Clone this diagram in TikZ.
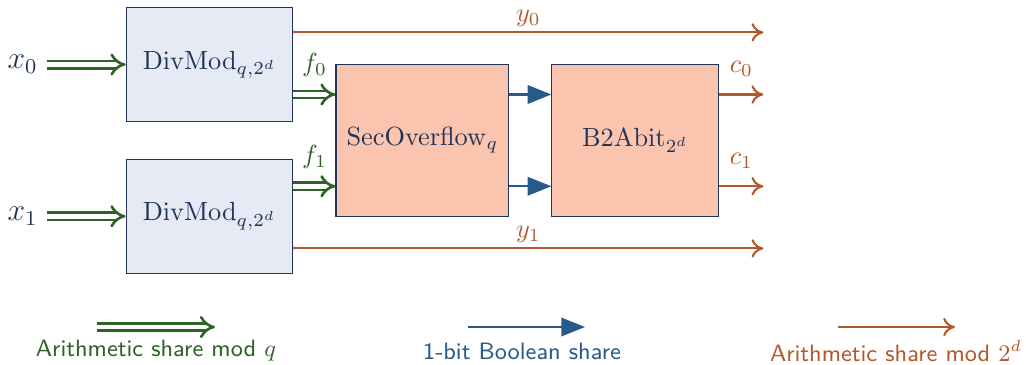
\documentclass[tikz,border=0pt]{standalone}
\usepackage{amsmath}
\usepackage{tikz}
\usetikzlibrary{arrows.meta, positioning, calc}
\definecolor{navy}{RGB}{31,52,88}
\definecolor{arithq}{RGB}{46,98,38}
\definecolor{boolblue}{RGB}{38,90,138}
\definecolor{arithd}{RGB}{178,88,44}
\definecolor{boxblue}{RGB}{229,234,244}
\definecolor{boxorange}{RGB}{251,196,174}

\begin{document}
\begin{tikzpicture}[x=0.01336cm, y=-0.01336cm,
    modq/.style={draw=arithq, double=white, line width=1pt, double distance=1.8pt, -{Implies}},
    bool/.style={draw=boolblue, thick, -{Triangle[length=9pt, width=7pt]}},
    modd/.style={draw=arithd, thick, -{To[length=4.5pt, width=7pt]}}]
    \useasboundingbox (0,0) rectangle (1026,364);%fixes the margins
    \node (dm0) [rectangle, draw=navy, fill=boxblue, text=navy, minimum width=2.231cm, minimum height=1.52cm] at (209.5,64.5) {$\mathrm{DivMod}_{q,2^d}$};%upper DivMod
    \node (dm1) [rectangle, draw=navy, fill=boxblue, text=navy, minimum width=2.231cm, minimum height=1.52cm, below=0.494cm of dm0] {$\mathrm{DivMod}_{q,2^d}$};%lower DivMod
    \coordinate (mid) at ($(dm0.east)!0.5!(dm1.east)$);
    \node (so) [rectangle, draw=navy, fill=boxorange, text=navy, minimum width=2.311cm, minimum height=2.03cm, right=0.561cm of mid] {$\mathrm{SecOverflow}_q$};%overflow box
    \node (b2a) [rectangle, draw=navy, fill=boxorange, text=navy, minimum width=2.231cm, minimum height=2.03cm, right=0.561cm of so] {$\mathrm{B2Abit}_{2^d}$};%conversion box
    \node (x0) [text=navy, left=1.05cm of dm0] {\large $x_0$};%input x0
    \node (x1) [text=navy, left=1.05cm of dm1] {\large $x_1$};%input x1
    \draw[modq] (x0) -- (dm0);%feeds x0
    \draw[modq] (x1) -- (dm1);%feeds x1
    \coordinate (si0) at ($(so.north west)!0.2!(so.south west)$);
    \coordinate (si1) at ($(so.north west)!0.8!(so.south west)$);
    \draw[modq] (dm0.east |- si0) -- node[midway, above=3pt, text=arithq]{$f_0$} (si0);%f0 into SecOverflow
    \draw[modq] (dm1.east |- si1) -- node[midway, above=3pt, text=arithq]{$f_1$} (si1);%f1 into SecOverflow
    \draw[bool] (so.east |- si0) -- (b2a.west |- si0);%boolean shares
    \draw[bool] (so.east |- si1) -- (b2a.west |- si1);
    \coordinate (c0end) at ($(b2a.east |- si0)+(44,0)$);
    \coordinate (c1end) at ($(b2a.east |- si1)+(44,0)$);
    \draw[modd] (b2a.east |- si0) -- node[midway, above=3pt, text=arithd]{$c_0$} (c0end);%c0 out
    \draw[modd] (b2a.east |- si1) -- node[midway, above=3pt, text=arithd]{$c_1$} (c1end);%c1 out
    \coordinate (y0start) at ($(dm0.north east)!0.22!(dm0.south east)$);
    \coordinate (y1start) at ($(dm1.south east)!0.22!(dm1.north east)$);
    \draw[modd] (y0start) -- node[midway, above=-1.5pt, text=arithd]{$y_0$} (y0start -| c0end);%y0 passes by
    \draw[modd] (y1start) -- node[midway, above=-1.5pt, text=arithd]{$y_1$} (y1start -| c0end);%y1 passes by
    % legend
    \node (lgq) [text=arithq, font=\small\sffamily] at (156,351) {Arithmetic share mod $q$};
    \node (lgb) [text=boolblue, font=\small\sffamily] at (522,351) {1-bit Boolean share};
    \node (lgd) [text=arithd, font=\small\sffamily] at (896,351) {Arithmetic share mod $2^d$};
    \coordinate (lgq0) at (97,327);
    \coordinate (lgq1) at (215,327);
    \coordinate (lgb0) at (468,327);
    \coordinate (lgb1) at (585,327);
    \coordinate (lgd0) at (838,327);
    \coordinate (lgd1) at (955,327);
    \draw[modq] (lgq0) -- (lgq1);
    \draw[bool] (lgb0) -- (lgb1);
    \draw[modd] (lgd0) -- (lgd1);
\end{tikzpicture}
\end{document}
